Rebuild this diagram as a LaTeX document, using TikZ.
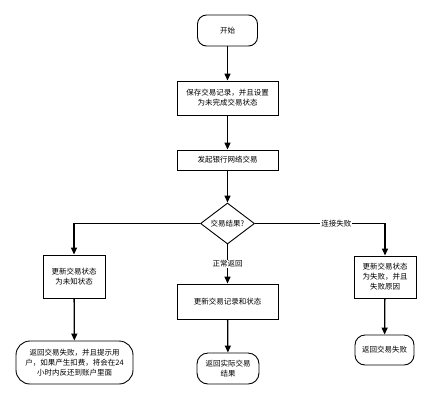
\documentclass[tikz,border=0pt]{standalone}
\usepackage{fontspec}
\setmainfont{Noto Sans CJK SC}
\usetikzlibrary{shapes.geometric,arrows.meta}
\begin{document}
\begin{tikzpicture}[x=1pt,y=-1pt,
  every node/.style={font=\fontsize{7.5}{10}\selectfont, align=center, inner sep=0pt},
  procbox/.style={draw, line width=0.9pt, fill=white},
  termbox/.style={draw, line width=0.9pt, rounded corners=9pt, fill=white},
  conn/.style={line width=1.3pt, -{Triangle[length=7pt,width=6pt]}},
  lbl/.style={fill=white, inner sep=1pt}]
\useasboundingbox (0,0) rectangle (430,400);
\node[termbox, minimum width=60pt, minimum height=31pt] (start) at (227.5,30.5) {开始};
\node[procbox, minimum width=101pt, minimum height=34pt] (save) at (227.5,98) {保存交易记录，并且设置\\为未完成交易状态};
\node[procbox, minimum width=101pt, minimum height=20pt] (send) at (227.5,160) {发起银行网络交易};
\node[diamond, draw, line width=0.9pt, minimum width=54pt, minimum height=41pt, aspect=1.3, inner sep=0pt] (dec) at (227.5,223.5) {交易结果?};
\node[procbox, minimum width=62pt, minimum height=43pt] (unk) at (74,276.5) {更新交易状态\\为未知状态};
\node[termbox, minimum width=117pt, minimum height=43pt, rounded corners=14pt] (ret1) at (74.5,362.5) {返回交易失败，并且提示用\\户，如果产生扣费，将会在24\\小时内反还到账户里面};
\node[procbox, minimum width=101pt, minimum height=35pt] (upd) at (227.5,301.5) {更新交易记录和状态};
\node[termbox, minimum width=62pt, minimum height=31pt, rounded corners=11pt] (ret2) at (228,368.5) {返回实际交易\\结果};
\node[procbox, minimum width=62pt, minimum height=42pt] (fail) at (385,277) {更新交易状态\\为失败，并且\\失败原因};
\node[termbox, minimum width=59pt, minimum height=30pt, rounded corners=10pt] (ret3) at (384.5,350) {返回交易失败};
\draw[conn] (start) -- (save);
\draw[conn] (save) -- (send);
\draw[conn] (send) -- (dec);
\draw[conn] (dec.west) -| (unk.north);
\draw[conn] (unk) -- (ret1);
\draw[conn] (dec.south) -- node[lbl, pos=0.5] {正常返回} (upd.north);
\draw[conn] (upd) -- (ret2);
\draw[conn] (dec.east) -| node[lbl, pos=0.313] {连接失败} (fail.north);
\draw[conn] (fail) -- (ret3);
\end{tikzpicture}
\end{document}
